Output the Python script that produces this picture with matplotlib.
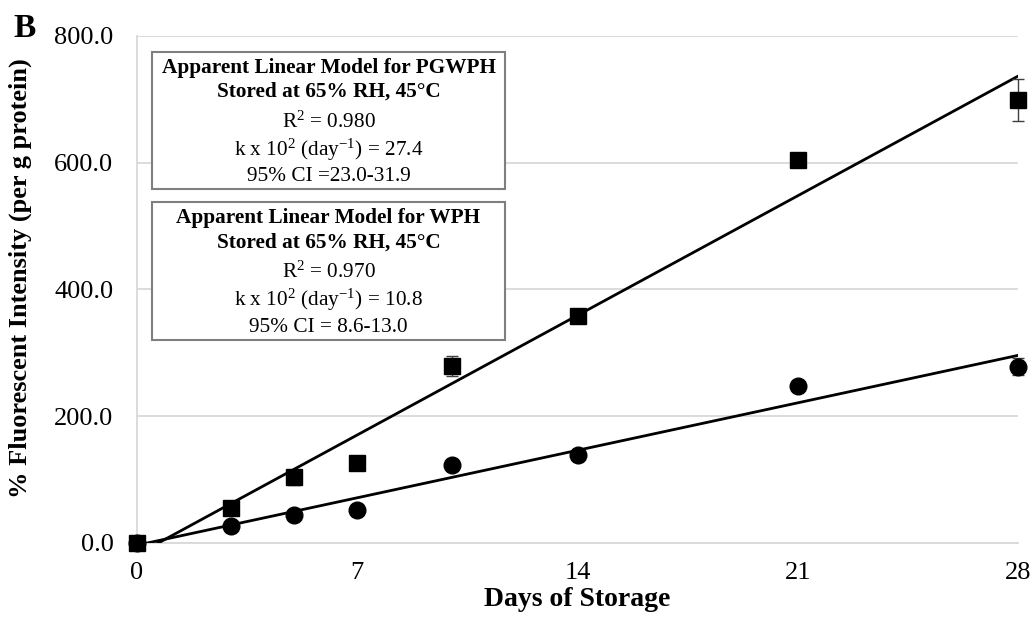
import matplotlib
matplotlib.use("Agg")
import matplotlib.pyplot as plt
from matplotlib.patches import Rectangle
import numpy as np

plt.rcParams['font.family'] = ['Liberation Serif', 'DejaVu Serif']
plt.rcParams['mathtext.fontset'] = 'custom'
plt.rcParams['mathtext.rm'] = 'Liberation Serif'
plt.rcParams['mathtext.bf'] = 'Liberation Serif:bold'
plt.rcParams['mathtext.default'] = 'regular'

# data
days = [0, 3, 5, 7, 10, 14, 21, 28]
pgwph = [0, 55, 103, 126, 279, 358, 604, 699]
pgwph_err = [0, 5, 12, 4, 16, 6, 9, 33]
wph = [0, 27, 44, 52, 123, 138, 248, 278]
wph_err = [0, 3, 4, 3, 4, 7, 5, 14]

box1 = ["Apparent Linear Model for PGWPH", "Stored at 65% RH, 45\u00b0C",
        "R$^2$ = 0.980", "k x 10$^2$ (day$^{-1}$) = 27.4", "95% CI =23.0-31.9"]
box2 = ["Apparent Linear Model for WPH", "Stored at 65% RH, 45\u00b0C",
        "R$^2$ = 0.970", "k x 10$^2$ (day$^{-1}$) = 10.8", "95% CI = 8.6-13.0"]

W, H = 1035, 622
fig = plt.figure(figsize=(W / 100, H / 100), dpi=100)
ax = fig.add_axes([137 / W, 1 - 542.7 / H, 881 / W, (542.7 - 36) / H])

x = np.array(days, dtype=float)
xs = np.linspace(0, 28, 200)
for y in [pgwph, wph]:
    k, b = np.polyfit(x, np.array(y, dtype=float), 1)
    ax.plot(xs, k * xs + b, color='black', lw=2, zorder=3)

ax.errorbar(days, wph, yerr=wph_err, fmt='o', color='black', ms=12,
            ecolor='#404040', elinewidth=1, capsize=4, zorder=4, clip_on=False)
ax.errorbar(days, pgwph, yerr=pgwph_err, fmt='s', color='black', ms=12,
            ecolor='#404040', elinewidth=1, capsize=4, zorder=5, clip_on=False)

ax.set_xlim(0, 28)
ax.set_ylim(0, 800)
ax.set_xticks([0, 7, 14, 21, 28])
ax.set_yticks([0, 200, 400, 600, 800])
ax.set_yticklabels(["%.1f" % v for v in [0, 200, 400, 600, 800]])
ax.tick_params(axis='both', length=0, labelsize=19)
ax.tick_params(axis='y', pad=17)
ax.tick_params(axis='x', pad=14)
ax.grid(axis='y', color='#d9d9d9', lw=1.3)
ax.set_axisbelow(True)
for s in ['top', 'right']:
    ax.spines[s].set_visible(False)
ax.spines['left'].set_color('#d9d9d9')
ax.spines['bottom'].set_color('#d9d9d9')
ax.spines['left'].set_linewidth(1.3)
ax.spines['bottom'].set_linewidth(1.3)

ax.set_xlabel("Days of Storage", fontsize=20, fontweight='bold', labelpad=2)
ax.set_ylabel("% Fluorescent Intensity (per g protein)", fontsize=19,
              fontweight='bold')
ax.yaxis.set_label_coords(-0.119, 0.522)

fig.text(13 / W, 1 - 37 / H, "B", fontsize=24, fontweight='bold', va='baseline')

# annotation boxes
for lines, top, bottom, ys in [(box1, 51.7, 189, [68, 92, 122, 150, 177]),
                               (box2, 201.7, 340, [218, 243, 272, 300, 327])]:
    fig.patches.append(Rectangle((152 / W, 1 - bottom / H), (505 - 152) / W,
                                 (bottom - top) / H, transform=fig.transFigure,
                                 facecolor='white', edgecolor='#7f7f7f', lw=1.5,
                                 zorder=6))
    for i, (t, yy) in enumerate(zip(lines, ys)):
        fig.text(328.5 / W, 1 - yy / H, t, ha='center', va='center',
                 fontsize=15.3, fontweight='bold' if i < 2 else 'normal',
                 zorder=7)

fig.savefig("out.png", dpi=100)
